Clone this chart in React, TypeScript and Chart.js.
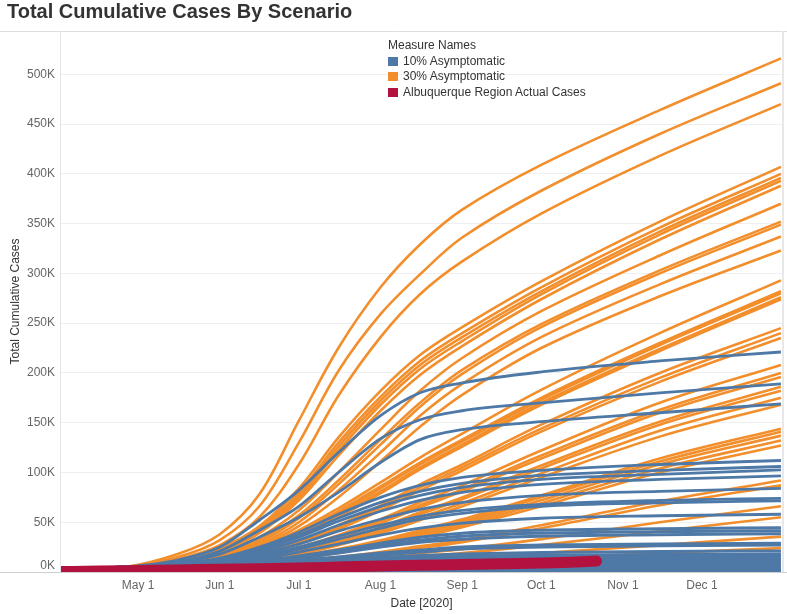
import React, { useEffect, useRef } from "react";
import { Chart, registerables } from "chart.js";

Chart.register(...registerables);

// Day index 0 = Apr 1 2020
const DAYS = [0, 25, 45, 61, 76, 91, 106, 122, 137, 153, 183, 228, 274];
const TICK_DAYS = [30, 61, 91, 122, 153, 183, 214, 244];
const TICK_LABELS = ["May 1", "Jun 1", "Jul 1", "Aug 1", "Sep 1", "Oct 1", "Nov 1", "Dec 1"];
const Y_TICKS = [0, 50, 100, 150, 200, 250, 300, 350, 400, 450, 500];

// 30% Asymptomatic scenarios (thousands of cases at DAYS)
const ORANGE_SERIES: number[][] = [
  [2, 5, 18, 38, 78, 152, 225, 286, 329, 364, 409, 464, 516],
  [2, 5, 15, 32, 66, 130, 202, 259, 299, 336, 383, 440, 491],
  [2, 5, 13, 27, 55, 108, 177, 236, 279, 312, 360, 418, 470],
  [2, 5, 12, 24, 46, 84, 135, 182, 218, 246, 292, 352, 407],
  [2, 5, 12, 23, 44, 80, 130, 176, 212, 240, 286, 346, 400],
  [2, 5, 11, 22, 42, 77, 126, 172, 208, 236, 282, 342, 396],
  [2, 5, 11, 22, 41, 75, 122, 168, 204, 232, 279, 339, 393],
  [2, 5, 11, 21, 39, 72, 117, 162, 198, 227, 274, 334, 388],
  [2, 5, 10, 19, 35, 62, 100, 143, 182, 215, 262, 318, 370],
  [2, 5, 10, 18, 32, 57, 92, 133, 170, 203, 249, 303, 352],
  [2, 5, 9, 17, 30, 54, 88, 128, 166, 199, 246, 300, 349],
  [2, 5, 9, 16, 28, 50, 82, 120, 157, 189, 236, 289, 337],
  [2, 5, 9, 15, 26, 46, 75, 111, 146, 178, 225, 277, 323],
  [2, 5, 8, 14, 25, 42, 64, 90, 115, 139, 183, 240, 293],
  [2, 5, 8, 14, 24, 40, 61, 86, 110, 133, 175, 230, 282],
  [2, 5, 8, 13, 23, 39, 59, 84, 108, 131, 173, 228, 280],
  [2, 5, 8, 13, 22, 37, 57, 81, 105, 128, 170, 224, 276],
  [2, 5, 8, 13, 22, 36, 55, 79, 103, 126, 168, 222, 274],
  [2, 5, 7, 12, 19, 31, 47, 67, 88, 108, 148, 200, 245],
  [2, 5, 7, 11, 18, 30, 45, 65, 85, 105, 144, 195, 240],
  [2, 5, 7, 11, 18, 29, 43, 62, 82, 102, 141, 191, 235],
  [2, 5, 7, 10, 16, 25, 37, 53, 70, 87, 122, 170, 208],
  [2, 5, 7, 10, 15, 24, 35, 51, 67, 83, 117, 163, 200],
  [2, 5, 7, 10, 15, 23, 34, 49, 65, 81, 114, 160, 196],
  [2, 5, 6, 9, 14, 21, 31, 45, 60, 75, 107, 151, 186],
  [2, 5, 6, 9, 13, 20, 30, 43, 58, 73, 104, 148, 182],
  [2, 5, 6, 9, 13, 19, 28, 41, 55, 69, 99, 142, 175],
  [2, 5, 6, 8, 12, 18, 27, 39, 52, 66, 95, 136, 168],
  [2, 4, 6, 8, 11, 16, 23, 32, 42, 53, 77, 114, 144],
  [2, 4, 6, 8, 11, 15, 22, 31, 41, 51, 75, 111, 141],
  [2, 4, 6, 8, 10, 15, 21, 30, 39, 49, 72, 108, 137],
  [2, 4, 6, 7, 10, 14, 20, 28, 37, 47, 69, 104, 132],
  [2, 4, 5, 7, 9, 13, 19, 27, 35, 45, 66, 100, 127],
  [2, 4, 5, 6, 8, 11, 15, 20, 26, 32, 47, 71, 92],
  [2, 4, 5, 6, 8, 10, 14, 19, 24, 30, 44, 67, 87],
  [2, 4, 5, 6, 7, 9, 12, 15, 19, 23, 33, 50, 66],
  [2, 4, 5, 5, 6, 8, 10, 13, 16, 19, 27, 41, 55],
  [2, 3, 4, 5, 6, 7, 8, 10, 12, 14, 19, 27, 35.5],
  [2, 3, 4, 4, 5, 6, 7, 8, 9, 11, 14, 19, 24],
];

// 10% Asymptomatic scenarios (thousands of cases at DAYS)
const BLUE_SERIES: number[][] = [
  [2, 5, 12, 25, 52, 82, 120, 157, 180, 190, 201, 212, 221],
  [2, 5, 10, 21, 42, 66, 100, 134, 153, 162, 170, 180, 189],
  [2, 5, 9, 18, 35, 55, 80, 110, 133, 143, 151, 160, 169],
  [2, 5, 8, 14, 25, 40, 58, 75, 87, 95, 102, 108, 112],
  [2, 5, 8, 13, 23, 37, 54, 70, 81, 89, 97, 102, 106],
  [2, 5, 8, 13, 22, 35, 51, 66, 77, 85, 93, 98, 102.5],
  [2, 5, 7, 12, 20, 32, 47, 61, 72, 80, 88, 93, 96.5],
  [2, 5, 7, 11, 18, 28, 41, 53, 63, 70, 77, 81, 84],
  [2, 5, 7, 10, 16, 25, 36, 47, 56, 62, 68, 72, 74],
  [2, 5, 7, 10, 15, 23, 33, 44, 53, 59, 66, 69.5, 71.5],
  [2, 5, 6, 9, 13, 20, 28, 37, 44, 49, 54, 56.5, 58],
  [2, 4, 6, 8, 11, 16, 22, 29, 35, 39, 42, 43.5, 44.5],
  [2, 4, 6, 8, 11, 15, 21, 27, 32, 36, 39, 40.5, 41.5],
  [2, 4, 6, 7, 10, 14, 19, 25, 30, 33, 36, 37.5, 38.5],
  [2, 4, 5, 7, 9, 12, 15, 19, 22, 25, 27, 28.2, 29],
  [2, 4, 5, 6, 8, 11, 14, 17, 20, 23, 25, 26.3, 27],
  [2, 4, 5, 6, 8, 10, 12, 14.5, 16.5, 18, 19.5, 20.5, 21.2],
  [2, 4, 5, 6, 7.5, 9, 11, 12.5, 14, 15, 16.3, 17, 17.5],
  [2, 4, 5, 6, 7, 8, 9.5, 11, 12, 12.8, 13.7, 14.2, 14.5],
  [2, 3.5, 4.5, 5, 6, 7, 8, 9, 9.8, 10.4, 11, 11.3, 11.5],
  [2, 3.5, 4, 4.5, 5, 5.5, 6.3, 7, 7.5, 7.9, 8.2, 8.4, 8.5],
  [2, 3, 3.5, 4, 4.2, 4.5, 4.8, 5, 5.2, 5.3, 5.4, 5.5, 5.5],
  [2, 2.5, 2.8, 3, 3, 3, 3, 3, 3, 3, 3, 3, 3],
  [1, 1, 1, 1, 1, 1, 1, 1, 1, 1, 1, 1, 1],
];

// Albuquerque Region Actual Cases (thousands)
const ACTUAL_DAYS = [0, 15, 30, 45, 61, 76, 91, 106, 122, 137, 153, 168, 183, 194, 204];
const ACTUAL_CASES = [0.5, 0.9, 1.5, 2.1, 2.8, 3.3, 4.0, 5.0, 6.0, 6.7, 7.5, 8.2, 9.0, 9.8, 11.0];

const ORANGE = "#f28e2b";
const BLUE = "#4e79a7";
const RED = "#b3123f";
const FONT = '"Liberation Sans", Arial, sans-serif';

const framePlugin = {
  id: "frame",
  afterDraw(chart: any) {
    const { ctx, chartArea: a, width } = chart;
    ctx.save();
    ctx.lineWidth = 1;
    ctx.strokeStyle = "#dedede";
    ctx.beginPath();
    ctx.moveTo(0, a.top + 0.5);
    ctx.lineTo(width, a.top + 0.5);
    ctx.stroke();
    ctx.strokeStyle = "#cfcfcf";
    ctx.beginPath();
    ctx.moveTo(0, a.bottom + 0.5);
    ctx.lineTo(width, a.bottom + 0.5);
    ctx.stroke();
    ctx.strokeStyle = "#e4e4e4";
    ctx.beginPath();
    ctx.moveTo(a.left - 0.5, a.top);
    ctx.lineTo(a.left - 0.5, a.bottom);
    ctx.stroke();
    ctx.lineWidth = 2;
    ctx.strokeStyle = "#e8e8e8";
    ctx.beginPath();
    ctx.moveTo(a.right + 1, a.top);
    ctx.lineTo(a.right + 1, a.bottom);
    ctx.stroke();
    // zero label sits just above the baseline, as in the source
    ctx.fillStyle = "#666";
    ctx.font = `12px ${FONT}`;
    ctx.textAlign = "right";
    ctx.textBaseline = "middle";
    ctx.fillText(`${Y_TICKS[0]}K`, a.left - 6, a.bottom - 6);
    ctx.restore();
  },
};

export default function App() {
  const ref = useRef<HTMLCanvasElement>(null);

  useEffect(() => {
    document.body.style.margin = "0";
    const canvas = ref.current;
    if (!canvas) return;
    const toPoints = (vals: number[], days: number[]) => vals.map((v, i) => ({ x: days[i], y: v }));
    const datasets: any[] = [
      {
        label: "Albuquerque Region Actual Cases",
        data: toPoints(ACTUAL_CASES, ACTUAL_DAYS),
        borderColor: RED,
        borderWidth: 11,
        borderCapStyle: "round",
        order: 0,
        clip: 0,
      },
      ...BLUE_SERIES.map((s, i) => ({
        label: "10% Asymptomatic",
        data: toPoints(s, DAYS),
        borderColor: BLUE,
        borderWidth: i >= 17 ? 4 : i >= 11 ? 3 : 2.8,
        order: 1,
        clip: 0,
      })),
      ...ORANGE_SERIES.map((s) => ({
        label: "30% Asymptomatic",
        data: toPoints(s, DAYS),
        borderColor: ORANGE,
        borderWidth: 2.6,
        cubicInterpolationMode: "default",
        tension: 0.35,
        order: 2,
        clip: 0,
      })),
    ];

    const tickFont = { family: FONT, size: 12 };
    const chart = new Chart(canvas, {
      type: "line",
      data: { datasets },
      options: {
        animation: false,
        responsive: false,
        devicePixelRatio: 1,
        events: [],
        elements: {
          point: { radius: 0 },
          line: { cubicInterpolationMode: "monotone", fill: false, borderJoinStyle: "round" },
        },
        layout: { padding: { left: 0, right: 5, top: 31, bottom: 0 } },
        plugins: { legend: { display: false }, tooltip: { enabled: false }, title: { display: false } },
        scales: {
          x: {
            type: "linear",
            min: 0.7,
            max: 274.4,
            afterBuildTicks: (s: any) => {
              s.ticks = TICK_DAYS.map((v) => ({ value: v }));
            },
            afterFit: (s: any) => {
              s.height = 42;
            },
            grid: { display: false, drawTicks: false },
            border: { display: false },
            ticks: {
              autoSkip: false,
              maxRotation: 0,
              padding: 6,
              color: "#666",
              font: tickFont,
              callback: (_v: any, i: number) => TICK_LABELS[i],
            },
            title: {
              display: true,
              text: "Date [2020]",
              color: "#333",
              font: tickFont,
              padding: { top: 0, bottom: 3 },
            },
          },
          y: {
            min: 0,
            max: 543.5,
            afterBuildTicks: (s: any) => {
              s.ticks = Y_TICKS.map((v) => ({ value: v }));
            },
            afterFit: (s: any) => {
              s.width = 61;
            },
            grid: { color: "#efefef", drawTicks: false },
            border: { display: false },
            ticks: {
              padding: 6,
              color: "#666",
              font: tickFont,
              callback: (v: any) => (v === Y_TICKS[0] ? "" : `${v}K`),
            },
            title: {
              display: true,
              text: "Total Cumulative Cases",
              color: "#333",
              font: tickFont,
              padding: { top: 8, bottom: 0 },
            },
          },
        },
      } as any,
      plugins: [framePlugin],
    });
    return () => chart.destroy();
  }, []);

  const legendItems = [
    { color: BLUE, label: "10% Asymptomatic" },
    { color: ORANGE, label: "30% Asymptomatic" },
    { color: RED, label: "Albuquerque Region Actual Cases" },
  ];

  return (
    <div style={{ position: "relative", width: 787, height: 614, fontFamily: FONT, background: "#fff" }}>
      <canvas ref={ref} width={787} height={614} style={{ position: "absolute", left: 0, top: 0 }} />
      <div
        style={{
          position: "absolute",
          left: 7,
          top: -1,
          fontSize: 20,
          lineHeight: "24px",
          fontWeight: "bold",
          color: "#333",
          whiteSpace: "nowrap",
        }}
      >
        Total Cumulative Cases By Scenario
      </div>
      <div style={{ position: "absolute", left: 388, top: 38, fontSize: 12, color: "#333", lineHeight: "15.5px" }}>
        <div>Measure Names</div>
        {legendItems.map((it) => (
          <div key={it.label} style={{ display: "flex", alignItems: "center", whiteSpace: "nowrap" }}>
            <span style={{ display: "inline-block", width: 10, height: 9, background: it.color, marginRight: 5 }} />
            <span>{it.label}</span>
          </div>
        ))}
      </div>
    </div>
  );
}
